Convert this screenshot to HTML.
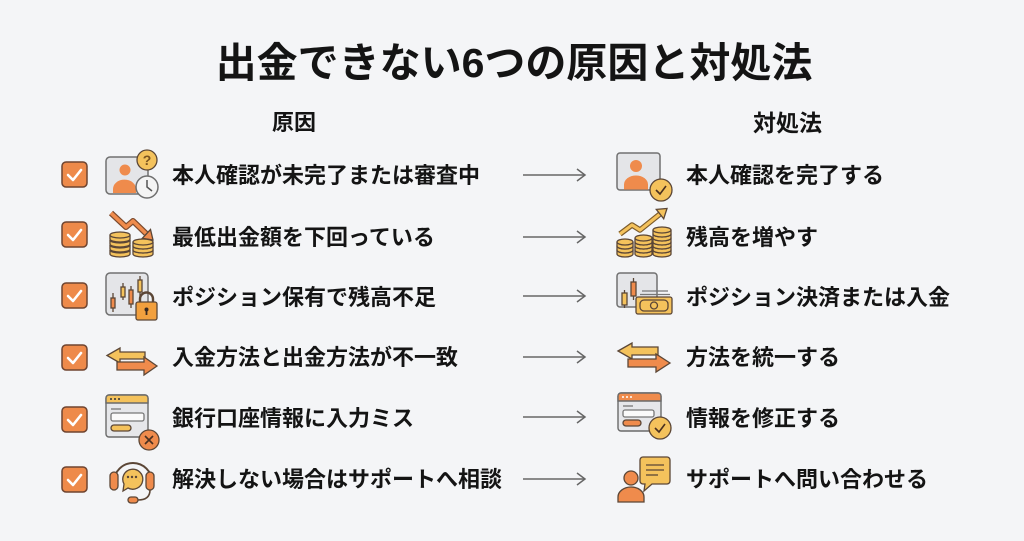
<!DOCTYPE html>
<html><head><meta charset="utf-8"><style>
html,body{margin:0;padding:0}
body{width:1024px;height:541px;background:#F4F5F7;position:relative;overflow:hidden;font-family:"Liberation Sans","Noto Sans CJK JP",sans-serif;color:#141414}
.t{position:absolute;white-space:nowrap;font-weight:700;line-height:1}
.title{font-size:41px;left:0;width:1028px;text-align:center;top:43px;line-height:41px}
.h{font-size:22px;line-height:22px;top:112px}
.r{font-size:22px;line-height:22px}
svg{position:absolute;left:0;top:0}
</style></head><body>
<svg width="1024" height="541" viewBox="0 0 1024 541" xmlns="http://www.w3.org/2000/svg">
<defs>
<g id="cb">
<rect x="0" y="0" width="25" height="25" rx="4" fill="#EE8A4A" stroke="#6E4430" stroke-width="1.5"/>
<polyline points="6,13 11,18 19,8" fill="none" stroke="#fff" stroke-width="2.6" stroke-linecap="round" stroke-linejoin="round"/>
</g>
<g id="arr">
<line x1="523" y1="0" x2="585" y2="0" stroke="#666" stroke-width="1.5"/>
<polyline points="577,-6 585,0 577,6" fill="none" stroke="#666" stroke-width="1.5"/>
</g>
</defs>
<!-- checkboxes -->
<use href="#cb" x="62" y="162"/>
<use href="#cb" x="62" y="222"/>
<use href="#cb" x="62" y="283"/>
<use href="#cb" x="62" y="345"/>
<use href="#cb" x="62" y="407"/>
<use href="#cb" x="62" y="467"/>
<!-- arrows -->
<use href="#arr" x="0" y="175"/>
<use href="#arr" x="0" y="237"/>
<use href="#arr" x="0" y="296"/>
<use href="#arr" x="0" y="357"/>
<use href="#arr" x="0" y="417"/>
<use href="#arr" x="0" y="479"/>

<g stroke="#5B4636" stroke-width="1.3">
<!-- L1 -->
<rect x="106" y="157" width="42" height="37" rx="4" fill="#E4E5E8" stroke="#707070" stroke-width="1.5"/>
<circle cx="125" cy="170" r="5.5" fill="#EF8B4C" stroke="none"/>
<path d="M113,193 v-4 a11,9 0 0 1 23,0 v4 z" fill="#EF8B4C" stroke="none"/>
<circle cx="147" cy="160" r="10" fill="#F4C25C"/>
<text x="147" y="165" font-size="14" font-family="Liberation Sans" font-weight="700" text-anchor="middle" fill="#7A5420" stroke="none">?</text>
<circle cx="147" cy="187" r="11" fill="#F4F4F4" stroke="#6F6F6F" stroke-width="1.5"/>
<polyline points="147,180 147,187 152,191" fill="none" stroke="#555" stroke-width="1.5"/>

<!-- L2 coins & down arrow -->
<polyline points="111,213 126,227 133,221 146,233.5" fill="none" stroke="#7B4A2E" stroke-width="6" stroke-linejoin="round"/>
<polyline points="111,213 126,227 133,221 146,233.5" fill="none" stroke="#EF8B4C" stroke-width="3.6" stroke-linejoin="round"/>
<polygon points="153,240 142.3,238.3 150.5,229.5" fill="#EF8B4C"/>
<g fill="#F4C25C">
<path d="M110,250 v4 a10,3 0 0 0 20,0 v-4"/><ellipse cx="120" cy="250" rx="10" ry="3"/>
<path d="M110,245 v4 a10,3 0 0 0 20,0 v-4"/><ellipse cx="120" cy="245" rx="10" ry="3"/>
<path d="M110,240 v4 a10,3 0 0 0 20,0 v-4"/><ellipse cx="120" cy="240" rx="10" ry="3"/>
<path d="M110,235 v4 a10,3 0 0 0 20,0 v-4"/><ellipse cx="120" cy="235" rx="10" ry="3"/>
<path d="M133,250 v4 a10,3 0 0 0 20,0 v-4"/><ellipse cx="143" cy="250" rx="10" ry="3"/>
<path d="M133,246 v4 a10,3 0 0 0 20,0 v-4"/><ellipse cx="143" cy="246" rx="10" ry="3"/>
<path d="M133,242 v4 a10,3 0 0 0 20,0 v-4"/><ellipse cx="143" cy="242" rx="10" ry="3"/>
</g>

<!-- L3 candles + lock -->
<rect x="106" y="273" width="42" height="42" rx="4" fill="#E4E5E8" stroke="#707070" stroke-width="1.5"/>
<line x1="113" y1="293" x2="113" y2="312"/><rect x="111" y="298" width="4" height="10" fill="#EF8B4C"/>
<line x1="123" y1="283" x2="123" y2="300"/><rect x="121" y="287" width="4" height="10" fill="#F4C25C"/>
<line x1="131" y1="286" x2="131" y2="308"/><rect x="129" y="290" width="4" height="14" fill="#EF8B4C"/>
<line x1="140" y1="276" x2="140" y2="296"/><rect x="138" y="280" width="4" height="12" fill="#F4C25C"/>
<path d="M140,303 v-4 a6.5,6.5 0 0 1 13,0 v4" fill="none" stroke-width="2.4"/>
<rect x="136" y="302" width="21" height="18" rx="2" fill="#F2A03E"/>
<circle cx="146.5" cy="309.5" r="2" fill="#3a2a20" stroke="none"/>
<rect x="145.6" y="310" width="1.8" height="5" fill="#3a2a20" stroke="none"/>

<!-- L4 swap arrows -->
<polygon points="107,355.5 120,348 120,352 145,352 145,359 120,359 120,363" fill="#F4C25C"/>
<polygon points="157,366 144,357 144,362 117,362 117,370 144,370 144,375" fill="#EF8B4C"/>

<!-- L5 window with X -->
<rect x="106" y="395" width="42" height="42" rx="3" fill="#E6E7EA" stroke="#6A6A6A" stroke-width="1.4"/>
<path d="M106,403 v-5 a3,3 0 0 1 3,-3 h36 a3,3 0 0 1 3,3 v5 z" fill="#F4C25C" stroke="#6A6A6A" stroke-width="1.4"/>
<circle cx="111" cy="399" r="1" fill="#333" stroke="none"/><circle cx="115" cy="399" r="1" fill="#333" stroke="none"/><circle cx="119" cy="399" r="1" fill="#333" stroke="none"/>
<line x1="111" y1="409" x2="121" y2="409" stroke="#777"/>
<rect x="111" y="413" width="33" height="8" rx="2" fill="#FAFAFA" stroke="#777"/>
<rect x="111" y="425" width="20" height="6" rx="3" fill="#F4C25C"/>
<circle cx="149" cy="440" r="10" fill="#EF8B4C"/>
<path d="M145,436 l8,8 M153,436 l-8,8" stroke="#4a3020" stroke-width="1.6"/>

<!-- L6 headset -->
<path d="M114,482 A19,19 0 0 1 152,482" fill="none" stroke="#5B4636" stroke-width="2"/>
<rect x="110" y="472" width="8" height="18" rx="4" fill="#EF8B4C"/>
<rect x="146" y="472" width="8" height="18" rx="4" fill="#EF8B4C"/>
<path d="M150,490 q0,10 -12,10" fill="none" stroke-width="1.6"/>
<rect x="128" y="497" width="10" height="6" rx="3" fill="#EF8B4C"/>
<path d="M124,484 a10,10 0 1 1 4,4 l-5,3 z" fill="#F4C25C"/>
<circle cx="128" cy="477" r="1.2" fill="#5B4636" stroke="none"/><circle cx="132" cy="477" r="1.2" fill="#5B4636" stroke="none"/><circle cx="136" cy="477" r="1.2" fill="#5B4636" stroke="none"/>

<!-- R1 -->
<rect x="617" y="153" width="43" height="37" rx="3" fill="#E4E5E8" stroke="#707070" stroke-width="1.5"/>
<circle cx="636" cy="166" r="6" fill="#EF8B4C" stroke="none"/>
<path d="M624,189.5 v-5 a12,9 0 0 1 24,0 v5 z" fill="#EF8B4C" stroke="none"/>
<circle cx="661" cy="190" r="11" fill="#F4C25C"/>
<polyline points="656,190 660,194 666,186" fill="none" stroke="#4a3020" stroke-width="1.6"/>

<!-- R2 coins up arrow -->
<g fill="#F4C25C">
<path d="M617,250 v4 a8,3 0 0 0 16,0 v-4"/><ellipse cx="625" cy="250" rx="8" ry="3"/>
<path d="M617,246 v4 a8,3 0 0 0 16,0 v-4"/><ellipse cx="625" cy="246" rx="8" ry="3"/>
<path d="M617,242 v4 a8,3 0 0 0 16,0 v-4"/><ellipse cx="625" cy="242" rx="8" ry="3"/>
<path d="M635,250 v4 a8.5,3 0 0 0 17,0 v-4"/><ellipse cx="643.5" cy="250" rx="8.5" ry="3"/>
<path d="M635,246 v4 a8.5,3 0 0 0 17,0 v-4"/><ellipse cx="643.5" cy="246" rx="8.5" ry="3"/>
<path d="M635,242 v4 a8.5,3 0 0 0 17,0 v-4"/><ellipse cx="643.5" cy="242" rx="8.5" ry="3"/>
<path d="M635,238 v4 a8.5,3 0 0 0 17,0 v-4"/><ellipse cx="643.5" cy="238" rx="8.5" ry="3"/>
<path d="M653,250 v4 a9,3 0 0 0 18,0 v-4"/><ellipse cx="662" cy="250" rx="9" ry="3"/>
<path d="M653,246 v4 a9,3 0 0 0 18,0 v-4"/><ellipse cx="662" cy="246" rx="9" ry="3"/>
<path d="M653,242 v4 a9,3 0 0 0 18,0 v-4"/><ellipse cx="662" cy="242" rx="9" ry="3"/>
<path d="M653,238 v4 a9,3 0 0 0 18,0 v-4"/><ellipse cx="662" cy="238" rx="9" ry="3"/>
<path d="M653,234 v4 a9,3 0 0 0 18,0 v-4"/><ellipse cx="662" cy="234" rx="9" ry="3"/>
<path d="M653,230 v4 a9,3 0 0 0 18,0 v-4"/><ellipse cx="662" cy="230" rx="9" ry="3"/>
</g>
<polyline points="620,234 632,225 640,230 660,214" fill="none" stroke="#7B5A2A" stroke-width="5.5" stroke-linejoin="round"/>
<polyline points="620,234 632,225 640,230 660,214" fill="none" stroke="#F4C25C" stroke-width="3.2" stroke-linejoin="round"/>
<polygon points="667,208.5 663.7,218.8 656.3,209.4" fill="#F4C25C"/>

<!-- R3 candles + money -->
<rect x="617" y="273" width="40" height="34" rx="3" fill="#E4E5E8" stroke="#707070" stroke-width="1.5"/>
<line x1="633.5" y1="278" x2="633.5" y2="300"/><rect x="631" y="282" width="5" height="14" fill="#EF8B4C"/>
<line x1="624.5" y1="290" x2="624.5" y2="308"/><rect x="622" y="293" width="5" height="12" fill="#F4C25C"/>
<line x1="642" y1="291" x2="668" y2="291" stroke="#777"/>
<line x1="640" y1="294.5" x2="670" y2="294.5" stroke="#777"/>
<rect x="636" y="297" width="36" height="17" rx="2" fill="#F4C25C"/>
<rect x="640" y="300" width="28" height="11" rx="4" fill="none"/>
<circle cx="654" cy="305.5" r="3.5" fill="none"/>

<!-- R4 swap arrows -->
<polygon points="618,351 632,343 632,347 658,347 658,355 632,355 632,359" fill="#F4C25C"/>
<polygon points="670,363 656,354 656,359 628,359 628,367 656,367 656,372" fill="#EF8B4C"/>

<!-- R5 window with check -->
<rect x="618" y="393" width="43" height="38" rx="3" fill="#E6E7EA" stroke="#6A6A6A" stroke-width="1.4"/>
<path d="M618,401 v-5 a3,3 0 0 1 3,-3 h37 a3,3 0 0 1 3,3 v5 z" fill="#EF8B4C" stroke="#6A6A6A" stroke-width="1.4"/>
<circle cx="623" cy="397" r="1" fill="#fff" stroke="none"/><circle cx="627" cy="397" r="1" fill="#fff" stroke="none"/><circle cx="631" cy="397" r="1" fill="#fff" stroke="none"/>
<line x1="623" y1="406" x2="633" y2="406" stroke="#777"/>
<rect x="623" y="410" width="31" height="7" rx="2" fill="#FAFAFA" stroke="#777"/>
<rect x="623" y="420" width="18" height="6" rx="3" fill="#EF8B4C"/>
<circle cx="660" cy="428" r="11" fill="#F4C25C"/>
<polyline points="655,428 659,432 665,424" fill="none" stroke="#4a3020" stroke-width="1.6"/>

<!-- R6 person + chat -->
<circle cx="631" cy="478" r="7" fill="#EF8B4C"/>
<path d="M618,502 v-5 a13,10 0 0 1 26,0 v5 z" fill="#EF8B4C"/>
<path d="M643,457 h24 a3,3 0 0 1 3,3 v21 a3,3 0 0 1 -3,3 h-15 l-8,7 l1,-7 h-2 a3,3 0 0 1 -3,-3 v-21 a3,3 0 0 1 3,-3 z" fill="#F4C25C"/>
<line x1="646" y1="465" x2="664" y2="465"/><line x1="646" y1="470" x2="664" y2="470"/><line x1="646" y1="475" x2="658" y2="475"/>
</g>
</svg>

<div class="t title">出金できない6つの原因と対処法</div>
<div class="t h" style="left:272px">原因</div>
<div class="t h" style="left:753px;font-size:23px">対処法</div>

<div class="t r" style="left:172px;top:165px">本人確認が未完了または審査中</div>
<div class="t r" style="left:172px;top:227px">最低出金額を下回っている</div>
<div class="t r" style="left:172px;top:287px">ポジション保有で残高不足</div>
<div class="t r" style="left:172px;top:347px">入金方法と出金方法が不一致</div>
<div class="t r" style="left:172px;top:408px">銀行口座情報に入力ミス</div>
<div class="t r" style="left:172px;top:469px">解決しない場合はサポートへ相談</div>

<div class="t r" style="left:686px;top:165px">本人確認を完了する</div>
<div class="t r" style="left:686px;top:227px">残高を増やす</div>
<div class="t r" style="left:686px;top:287px">ポジション決済または入金</div>
<div class="t r" style="left:686px;top:347px">方法を統一する</div>
<div class="t r" style="left:686px;top:408px">情報を修正する</div>
<div class="t r" style="left:686px;top:469px">サポートへ問い合わせる</div>
</body></html>
